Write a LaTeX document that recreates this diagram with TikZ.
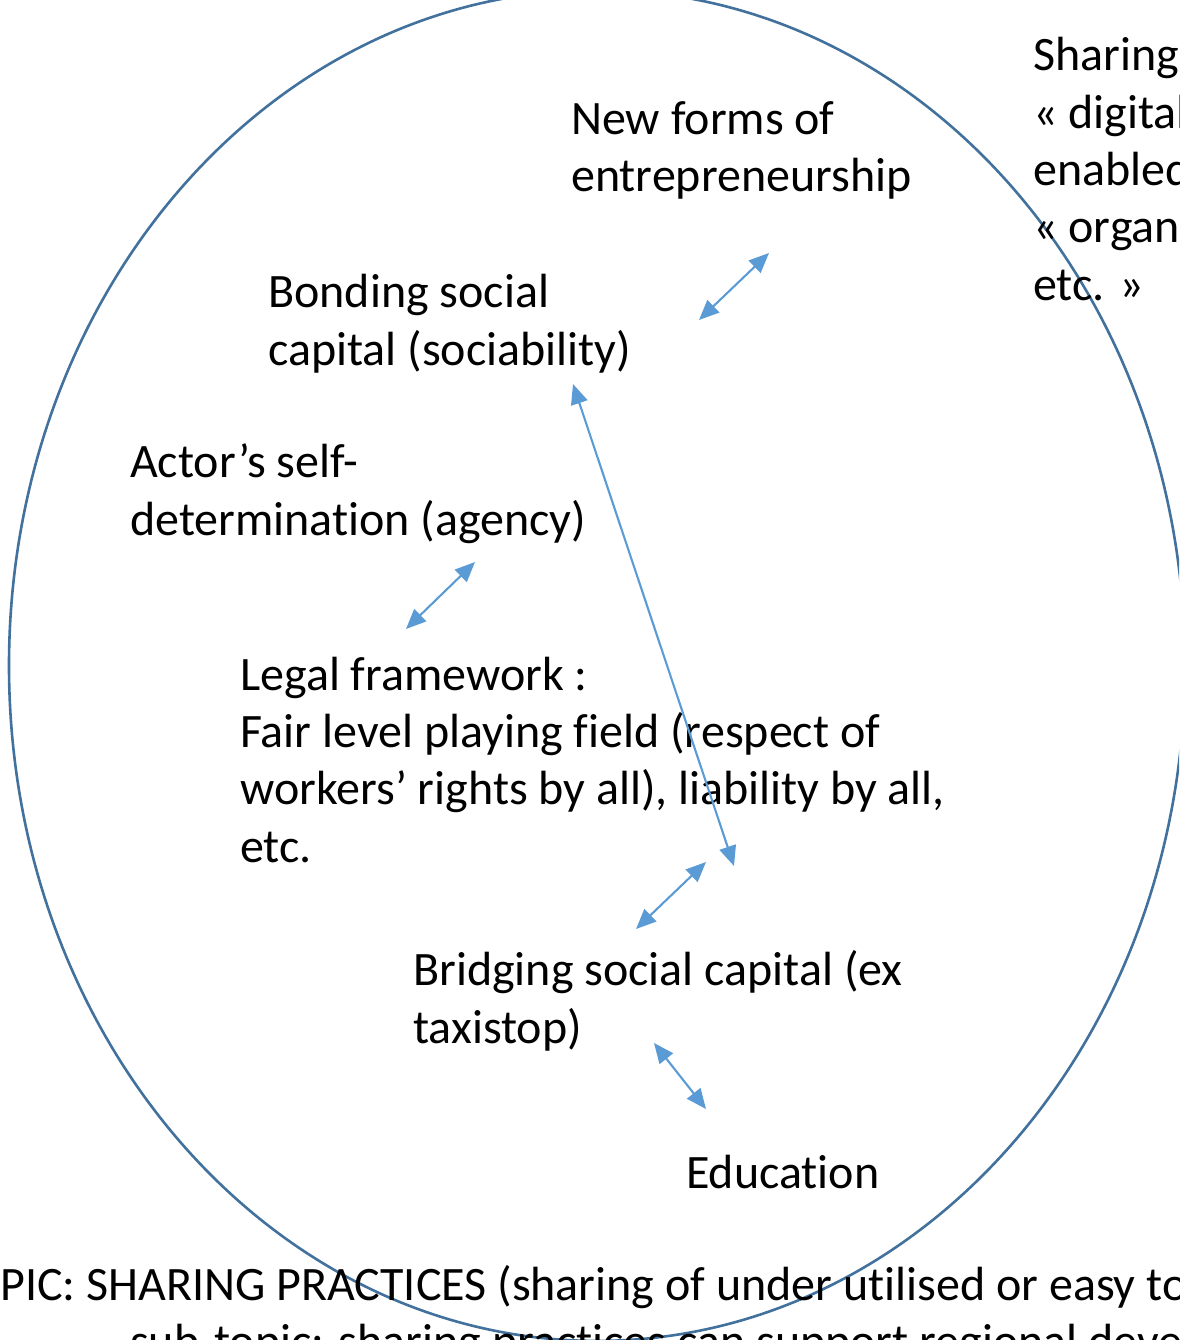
\documentclass[tikz,border=0pt]{standalone}
\usepackage{fontspec}
\setmainfont{Carlito}[Ligatures=NoCommon]
\usetikzlibrary{arrows.meta}
\definecolor{ellcol}{HTML}{41719C}
\definecolor{arrcol}{HTML}{5B9BD5}
\begin{document}
\begin{tikzpicture}[x=1pt,y=-1pt,
  lbl/.style={anchor=base west,align=left,inner sep=0pt,font=\fontsize{48}{57.3}\selectfont},
  ell/.style={draw=ellcol,line width=2.6pt},
  dbl/.style={draw=arrcol,line width=2.1pt,{Triangle[length=20pt,width=17pt]}-{Triangle[length=20pt,width=17pt]}}]
\useasboundingbox (0,0) rectangle (1179,1340);
\clip (0,0) rectangle (1179,1340);
\draw[ell] (597,665.5) ellipse [x radius=588pt, y radius=675.4pt];
\node[lbl] (nf) at (571,192) {New forms of\\entrepreneurship};
\node[lbl] (bo) at (268,365) {Bonding social\\capital (sociability)};
\node[lbl] (ac) at (130,535) {Actor’s self-\\determination (agency)};
\node[lbl] (lf) at (240,862) {Legal framework :\\Fair level playing field (respect of\\workers’ rights by all), liability by all,\\etc.};
\node[lbl] (br) at (413,1043) {Bridging social capital (ex\\taxistop)};
\node[lbl] (ed) at (686,1188) {Education};
\node[lbl] (sh) at (1033,300) {Sharing\\« digital\\enabled\\« organ\\etc. »};
\node[lbl] (t1) at (0,1300) {PIC: SHARING PRACTICES (sharing of under utilised or easy to};
\node[lbl] (t2) at (130,1357) {sub-topic: sharing practices can support regional deve};
\coordinate (a1) at (699,320); \coordinate (b1) at (769,253);
\coordinate (a2) at (573,384); \coordinate (b2) at (734,866);
\coordinate (a3) at (406,629); \coordinate (b3) at (475,562);
\coordinate (a4) at (636,929); \coordinate (b4) at (706,862);
\coordinate (a5) at (654,1043); \coordinate (b5) at (706,1109);
\draw[dbl] (a1) -- (b1);
\draw[dbl] (a2) -- (b2);
\draw[dbl] (a3) -- (b3);
\draw[dbl] (a4) -- (b4);
\draw[dbl] (a5) -- (b5);
\end{tikzpicture}
\end{document}
